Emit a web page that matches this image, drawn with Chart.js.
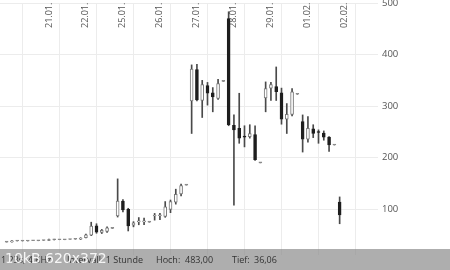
<!DOCTYPE html>
<html lang="de">
<head>
<meta charset="utf-8">
<title>Kursverlauf</title>
<script src="https://cdn.jsdelivr.net/npm/chart.js@4.4.1/dist/chart.umd.min.js"></script>
<style>
  html, body { margin: 0; padding: 0; background: #fff; }
  #wrap { position: relative; width: 450px; height: 270px; overflow: hidden; }
  #chart { display: block; }
  .status {
    position: absolute; left: 0; top: 249px; width: 450px; height: 21px;
    background: rgba(140, 140, 140, 0.7);
    font-family: "Open Sans", sans-serif; font-size: 9px; color: #333;
  }
  .status span { position: absolute; top: 4px; white-space: pre; }
  .thumb {
    position: absolute; left: 5px; top: 250px;
    font-family: "DejaVu Sans", sans-serif; font-size: 14px; color: rgba(255,255,255,0.9);
    white-space: pre;
  }
</style>
</head>
<body>
<div id="wrap">
  <canvas id="chart" width="450" height="270"></canvas>
  <div class="status">
    <span style="left:1px">1.23s, 4.6Hz</span>
    <span style="left:67px">Intervall: 1 Stunde</span>
    <span style="left:156px">Hoch:</span>
    <span style="left:185px">483,00</span>
    <span style="left:232px">Tief:</span>
    <span style="left:254px">36,06</span>
  </div>
  <div class="thumb">10kB 620x372</div>
</div>
<script>
'use strict';

// hourly candles, 7 slots per trading day
const opens = [
  36.5, 37, 38.5, 38.5, 38.5, 39, 39,
  39.5, 39.5, 41, 41, 41, 41.5, 42,
  42, 45, 50, 68, 55, 57, 63,
  87, 116, 100, 69, 75.5, 75.5, 75,
  87, 87.5, 86, 100, 114, 130, 147,
  310, 371, 311, 340, 326, 315, 348,
  470, 263, 257, 241, 241, 245, 190,
  316, 335, 338, 326, 275, 284, 323,
  270, 236, 256, 250, 248, 240, 224.6,
  114
];
const highs = [
  36.5, 39.5, 38.5, 38.5, 38.5, 39, 39,
  39.5, 42.5, 42, 41, 41, 41.5, 42,
  45, 52, 75, 72, 61, 66, 63,
  159, 119, 102, 76, 84, 83, 75,
  92, 92, 115, 118, 139, 149, 147,
  380, 381, 350, 346, 336, 352, 348,
  483, 283, 325, 262, 264, 262, 190,
  347, 346, 376, 335, 305, 334, 323,
  283, 280, 264, 254, 252, 241, 224.6,
  124
];
const lows = [
  36.5, 36.1, 38.5, 38.5, 38.5, 39, 39,
  39.5, 39, 40.5, 41, 41, 41.5, 42,
  41.5, 44.5, 49, 53.5, 53, 55, 63,
  85, 95, 58, 66, 70, 70, 75,
  79, 80, 84.5, 93.5, 110, 126, 147,
  247, 310, 278, 302, 289, 313, 348,
  262, 108, 228, 221, 238, 195, 190,
  289, 311, 311, 265, 247, 281, 323,
  211, 230, 239, 228, 234, 212, 224.6,
  72
];
const closes = [
  36.5, 38.5, 38.5, 38.5, 38.5, 39, 39,
  39.5, 41.5, 41, 41, 41, 41.5, 42,
  44, 50.5, 67.5, 55.5, 59, 64, 63,
  116, 99, 68, 74, 76.5, 76.5, 75,
  88, 88.5, 105, 115, 129, 146, 147,
  372, 312, 342, 325, 318, 344, 348,
  264, 254, 238, 240, 247, 196, 190,
  334, 342, 328, 275, 284, 328, 323,
  236, 257, 247, 249, 240, 225, 224.6,
  89
];

const dayLabels = ['21.01.', '22.01.', '25.01.', '26.01.', '27.01.', '28.01.', '29.01.', '01.02.', '02.02.'];
const yTicks = [100, 200, 300, 400, 500];
const SLOTS_PER_DAY = 7;

const dayStarts = dayLabels.map((_, idx) => (idx + 1) * SLOTS_PER_DAY - 0.5);

const wickData = highs.map((h, i) => ({ x: i, y: [lows[i], h] }));
const bodyData = opens.map((o, i) => ({ x: i, y: [o, closes[i]] }));

function bodyFill(i) {
  if (closes[i] > opens[i]) return '#ffffff';
  if (closes[i] < opens[i]) return '#1e1e1e';
  return '#8a8a8a';
}

function bodyBorder(i) {
  if (closes[i] > opens[i]) return '#7a7a7a';
  if (closes[i] < opens[i]) return '#1e1e1e';
  return '#8a8a8a';
}

const dayLabelPlugin = {
  id: 'dayLabels',
  beforeDatasetsDraw(chart) {
    const { ctx, chartArea } = chart;
    const xScale = chart.scales.x;
    ctx.save();
    ctx.font = '9px "Open Sans"';
    ctx.fillStyle = '#555';
    ctx.textBaseline = 'alphabetic';
    ctx.textAlign = 'left';
    dayLabels.forEach((label, idx) => {
      const px = xScale.getPixelForValue(dayStarts[idx]);
      ctx.save();
      ctx.translate(px + 10.5, chartArea.top + 25);
      ctx.rotate(-Math.PI / 2);
      ctx.fillText(label, 0, 0);
      ctx.restore();
    });
    ctx.restore();
  }
};

new Chart(document.getElementById('chart'), {
  type: 'bar',
  data: {
    datasets: [
      {
        label: 'Body',
        data: bodyData,
        order: 0,
        barThickness: 3,
        minBarLength: 1,
        backgroundColor: bodyData.map((_, i) => bodyFill(i)),
        borderColor: bodyData.map((_, i) => bodyBorder(i)),
        borderWidth: 1,
        borderSkipped: false
      },
      {
        label: 'Wick',
        data: wickData,
        order: 1,
        barThickness: 1,
        backgroundColor: '#4a4a4a',
        borderWidth: 0
      }
    ]
  },
  options: {
    responsive: false,
    animation: false,
    layout: { padding: { top: 3, bottom: 15, left: 0, right: 0 } },
    datasets: { bar: { grouped: false } },
    plugins: {
      legend: { display: false },
      tooltip: { enabled: false }
    },
    scales: {
      x: {
        type: 'linear',
        position: 'bottom',
        offset: false,
        min: -1.2568,
        max: 70.257,
        afterBuildTicks(scale) {
          scale.ticks = dayStarts.map((v) => ({ value: v }));
        },
        ticks: { display: false },
        grid: { color: '#ececec', drawTicks: false },
        border: { display: false }
      },
      y: {
        position: 'right',
        min: 11.4,
        max: 500,
        afterBuildTicks(scale) {
          scale.ticks = yTicks.map((v) => ({ value: v }));
        },
        afterFit(scale) {
          scale.width = 72;
          scale.paddingTop = 0;
          scale.paddingBottom = 0;
        },
        ticks: {
          color: '#555',
          padding: 4,
          font: { family: 'Open Sans', size: 9.5 }
        },
        grid: { color: '#ececec', drawTicks: false },
        border: { display: false }
      }
    }
  },
  plugins: [dayLabelPlugin]
});
</script>
</body>
</html>
